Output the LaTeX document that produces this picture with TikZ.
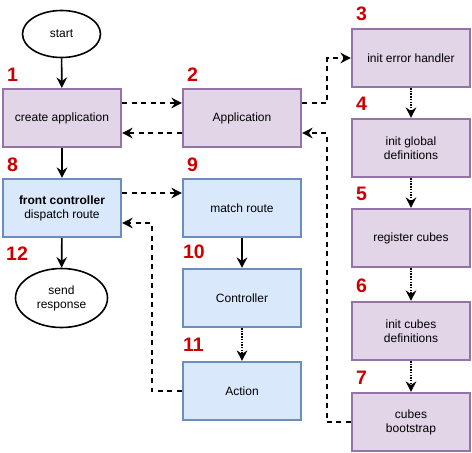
\documentclass[tikz,border=0pt]{standalone}
\usepackage{fontspec}
\setmainfont{Liberation Sans}
\usetikzlibrary{arrows.meta,shapes.geometric}
\definecolor{purplefill}{HTML}{E1D5E7}
\definecolor{purpleline}{HTML}{9673A6}
\definecolor{bluefill}{HTML}{DAE8FC}
\definecolor{blueline}{HTML}{6C8EBF}
\definecolor{numred}{HTML}{CC0000}
\tikzset{
  box/.style={rectangle, line width=1.6pt, minimum width=118.5pt, minimum height=58.5pt,
    inner sep=2pt, align=center, font=\fontsize{12pt}{14pt}\selectfont},
  appbox/.style={box, draw=purpleline, fill=purplefill},
  routebox/.style={box, draw=blueline, fill=bluefill},
  terminal/.style={ellipse, draw=black, line width=1.6pt, inner sep=0pt, align=center,
    font=\fontsize{12pt}{14pt}\selectfont},
  num/.style={text=numred, anchor=base west, inner sep=0pt,
    font=\fontsize{19.5pt}{20pt}\selectfont\bfseries},
  tip/.style={-{Stealth[length=10.5pt,width=10.5pt,inset=3.5pt]}},
  solidarrow/.style={tip, line width=1.6pt},
  dasharrow/.style={tip, line width=1.6pt, dash pattern=on 5pt off 4.5pt},
  dotarrow/.style={tip, line width=1.6pt, dash pattern=on 1.5pt off 1.2pt},
}
\begin{document}
\begin{tikzpicture}[x=1pt,y=-1pt]
\useasboundingbox (0,0) rectangle (472,453);

% left column
\node[terminal, minimum width=78pt, minimum height=47pt] (start) at (61.5,34) {start};
\node[appbox] (n1) at (62,118) {create application};
\node[routebox] (n8) at (62,208) {\textbf{front controller}\\dispatch route};
\node[terminal, minimum width=92pt, minimum height=59pt] (n12) at (61.5,298) {send\\response};

% middle column
\node[appbox] (n2) at (242,118) {Application};
\node[routebox] (n9) at (242,208) {match route};
\node[routebox] (n10) at (242,298) {Controller};
\node[routebox] (n11) at (242,391) {Action};

% right column: application bootstrap steps
\node[appbox] (n3) at (411,58) {init error handler};
\node[appbox] (n4) at (411,148) {init global\\definitions};
\node[appbox] (n5) at (411,238) {register cubes};
\node[appbox] (n6) at (411,331) {init cubes\\definitions};
\node[appbox] (n7) at (411,422) {cubes\\bootstrap};

% step numbers
\node[num] (l1) at ([shift={(5,-6)}]n1.north west) {1};
\node[num] (l2) at ([shift={(5,-6)}]n2.north west) {2};
\node[num] (l3) at ([shift={(5,-7)}]n3.north west) {3};
\node[num] (l4) at ([shift={(5,-7)}]n4.north west) {4};
\node[num] (l5) at ([shift={(5,-7)}]n5.north west) {5};
\node[num] (l6) at ([shift={(5,-8)}]n6.north west) {6};
\node[num] (l7) at ([shift={(5,-7)}]n7.north west) {7};
\node[num] (l8) at ([shift={(5,-6)}]n8.north west) {8};
\node[num] (l9) at ([shift={(5,-6)}]n9.north west) {9};
\node[num] (l10) at ([shift={(1,-9)}]n10.north west) {10};
\node[num] (l11) at ([shift={(1,-9)}]n11.north west) {11};
\node[num] (l12) at (6,260) {12};

% main flow
\draw[solidarrow] (start) -- (n1);
\draw[solidarrow] (n1) -- (n8);
\draw[solidarrow] (n8) -- (n12);
\draw[solidarrow] (n9) -- (n10);
\draw[dotarrow] (n10) -- (n11);

% application calls
\draw[dasharrow] ([yshift=15pt]n1.east) -- ([yshift=15pt]n2.west);
\draw[dasharrow] ([yshift=-15pt]n2.west) -- ([yshift=-15pt]n1.east);
\draw[dasharrow] ([yshift=15pt]n2.east) -- ++(25,0) |- (n3.west);
\draw[dasharrow] (n7.west) -- ++(-24,0) |- ([yshift=-15pt]n2.east);

% routing calls
\draw[dasharrow] ([yshift=15pt]n8.east) -- ([yshift=15pt]n9.west);
\draw[dasharrow] (n11.west) -- ++(-30,0) |- ([yshift=-15pt]n8.east);

% bootstrap sequence
\draw[dotarrow] (n3) -- (n4);
\draw[dotarrow] (n4) -- (n5);
\draw[dotarrow] (n5) -- (n6);
\draw[dotarrow] (n6) -- (n7);
\end{tikzpicture}
\end{document}
